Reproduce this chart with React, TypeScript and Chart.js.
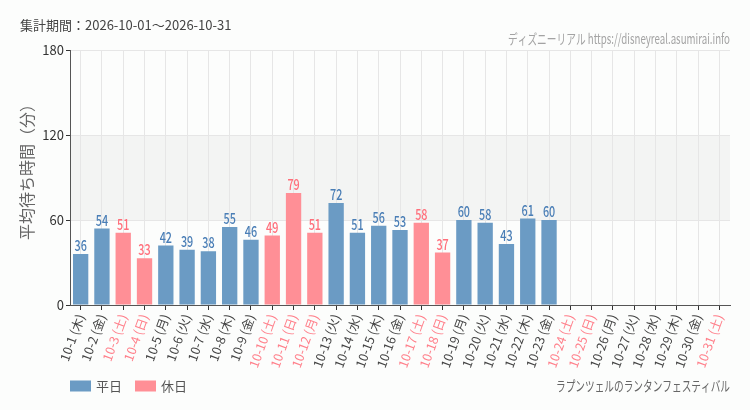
import { useEffect, useRef } from "react";
import { Chart, registerables } from "chart.js";

Chart.register(...registerables);

// October 2026, one entry per day
const dates = [
  "10-1", "10-2", "10-3", "10-4", "10-5", "10-6", "10-7", "10-8", "10-9", "10-10",
  "10-11", "10-12", "10-13", "10-14", "10-15", "10-16", "10-17", "10-18", "10-19", "10-20",
  "10-21", "10-22", "10-23", "10-24", "10-25", "10-26", "10-27", "10-28", "10-29", "10-30", "10-31",
];
const weekdays = [
  "木", "金", "土", "日", "月", "火", "水", "木", "金", "土",
  "日", "月", "火", "水", "木", "金", "土", "日", "月", "火",
  "水", "木", "金", "土", "日", "月", "火", "水", "木", "金", "土",
];
const holidayDates = ["10-3", "10-4", "10-10", "10-11", "10-12", "10-17", "10-18", "10-24", "10-25", "10-31"];
// average wait (minutes); days not yet aggregated are null
const waitMinutes: (number | null)[] = [
  36, 54, 51, 33, 42, 39, 38, 55, 46, 49,
  79, 51, 72, 51, 56, 53, 58, 37, 60, 58,
  43, 61, 60, null, null, null, null, null, null, null, null,
];
const yMin = 0;
const yMax = 180;
const yStep = 60;
const bandFrom = 60;
const bandTo = 120;

const periodText = "集計期間：2026-10-01～2026-10-31";
const siteText = "ディズニーリアル https://disneyreal.asumirai.info";
const eventText = "ラプンツェルのランタンフェスティバル";
const weekdayLabel = "平日";
const holidayLabel = "休日";
const yTitle = "平均待ち時間（分）";

const isHoliday = dates.map((d) => holidayDates.includes(d));
const labels = dates.map((d, i) => `${d} (${weekdays[i]})`);
const weekdayValues = waitMinutes.map((v, i) => (isHoliday[i] ? null : v));
const holidayValues = waitMinutes.map((v, i) => (isHoliday[i] ? v : null));

const BLUE_BAR = "#6b9bc4";
const PINK_BAR = "#ff8f96";
const BLUE_TEXT = "#4a7eb6";
const PINK_TEXT = "#ff6f7b";
const PINK_TICK = "#ff7f8a";
const CJK = "'Noto Sans CJK JP', 'Noto Sans', sans-serif";

function drawSqueezed(
  ctx: CanvasRenderingContext2D,
  text: string,
  x: number,
  y: number,
  width: number,
  font: string,
  color: string,
  align: "left" | "right"
) {
  ctx.save();
  ctx.font = font;
  ctx.fillStyle = color;
  ctx.textBaseline = "middle";
  ctx.textAlign = "left";
  const natural = ctx.measureText(text).width;
  const sx = width / natural;
  const left = align === "right" ? x - width : x;
  ctx.translate(left, y);
  ctx.scale(sx, 1);
  ctx.fillText(text, 0, 0);
  ctx.restore();
}

const backgroundPlugin = {
  id: "pageBackground",
  beforeDraw(chart: Chart) {
    const { ctx, chartArea, scales } = chart;
    ctx.save();
    ctx.fillStyle = "#fcfdfc";
    ctx.fillRect(0, 0, chart.width, chart.height);
    const y = scales.y;
    const top = y.getPixelForValue(bandTo);
    const bottom = y.getPixelForValue(bandFrom);
    ctx.fillStyle = "#f3f4f3";
    ctx.fillRect(chartArea.left, top, chartArea.right - chartArea.left, bottom - top);
    ctx.restore();
  },
};

// condensed numbers above each bar
const valueLabelPlugin = {
  id: "valueLabels",
  afterDatasetsDraw(chart: Chart) {
    const { ctx } = chart;
    chart.data.datasets.forEach((ds, di) => {
      const meta = chart.getDatasetMeta(di);
      meta.data.forEach((el: any, i: number) => {
        const v = ds.data[i] as number | null;
        if (v === null || v === undefined) return;
        ctx.save();
        ctx.font = `500 15px ${CJK}`;
        ctx.textAlign = "center";
        ctx.textBaseline = "alphabetic";
        ctx.fillStyle = di === 0 ? BLUE_TEXT : PINK_TEXT;
        ctx.translate(el.x, el.y - 3);
        ctx.scale(0.72, 1);
        ctx.fillText(String(v), 0, 0);
        ctx.restore();
      });
    });
  },
};

const decorationPlugin = {
  id: "decorations",
  afterDraw(chart: Chart) {
    const { ctx, chartArea } = chart;
    ctx.save();
    // aggregation period
    ctx.font = `13px ${CJK}`;
    ctx.fillStyle = "#444";
    ctx.textBaseline = "middle";
    ctx.textAlign = "left";
    ctx.fillText(periodText, 20, 25);
    ctx.restore();

    // site credit
    drawSqueezed(ctx, siteText, chartArea.right, 39, 222, `14px ${CJK}`, "#a3a3a3", "right");

    // y axis title
    ctx.save();
    ctx.font = `16px ${CJK}`;
    ctx.fillStyle = "#666";
    ctx.textAlign = "center";
    ctx.textBaseline = "middle";
    ctx.translate(27, 168);
    ctx.rotate(-Math.PI / 2);
    ctx.fillText(yTitle, 0, 0);
    ctx.restore();

    // legend
    const ly = 386;
    ctx.save();
    ctx.font = `13px ${CJK}`;
    ctx.textBaseline = "middle";
    ctx.textAlign = "left";
    ctx.fillStyle = BLUE_BAR;
    ctx.fillRect(70, ly - 5.5, 21, 11);
    ctx.fillStyle = "#555";
    ctx.fillText(weekdayLabel, 96, ly);
    ctx.fillStyle = PINK_BAR;
    ctx.fillRect(135, ly - 5.5, 21, 11);
    ctx.fillStyle = "#555";
    ctx.fillText(holidayLabel, 161, ly);
    ctx.restore();

    // event name
    drawSqueezed(ctx, eventText, chartArea.right, 386, 174, `14px ${CJK}`, "#666", "right");
  },
};

export default function App() {
  const canvasRef = useRef<HTMLCanvasElement | null>(null);

  useEffect(() => {
    document.body.style.margin = "0";
    const canvas = canvasRef.current;
    if (!canvas) return;
    const chart = new Chart(canvas, {
      type: "bar",
      data: {
        labels,
        datasets: [
          {
            label: weekdayLabel,
            data: weekdayValues,
            backgroundColor: BLUE_BAR,
            skipNull: true,
          } as any,
          {
            label: holidayLabel,
            data: holidayValues,
            backgroundColor: PINK_BAR,
            skipNull: true,
          } as any,
        ],
      },
      options: {
        animation: false,
        responsive: true,
        maintainAspectRatio: false,
        layout: { padding: { top: 50, right: 20, bottom: 35, left: 0 } },
        plugins: {
          legend: { display: false },
          tooltip: { enabled: false },
        },
        scales: {
          x: {
            offset: true,
            grid: {
              offset: false,
              color: "#e6e6e6",
              tickColor: "#333",
              tickLength: 5,
            },
            border: { color: "#555" },
            ticks: {
              autoSkip: false,
              minRotation: 70,
              maxRotation: 70,
              padding: 2,
              font: { size: 12.5, family: CJK },
              color: (c: any) => (isHoliday[c.index] ? PINK_TICK : "#444"),
            },
            afterFit: (s: any) => {
              s.height = 70;
            },
          },
          y: {
            min: yMin,
            max: yMax,
            grid: { color: "#e6e6e6", tickColor: "#333", tickLength: 4 },
            border: { color: "#555" },
            ticks: {
              stepSize: yStep,
              padding: 2,
              font: { size: 13, family: CJK },
              color: "#333",
            },
            afterFit: (s: any) => {
              s.width = 70;
            },
          },
        },
      },
      plugins: [backgroundPlugin, valueLabelPlugin, decorationPlugin],
    });
    return () => chart.destroy();
  }, []);

  return (
    <div style={{ position: "relative", width: 750, height: 410 }}>
      <canvas ref={canvasRef} />
    </div>
  );
}
